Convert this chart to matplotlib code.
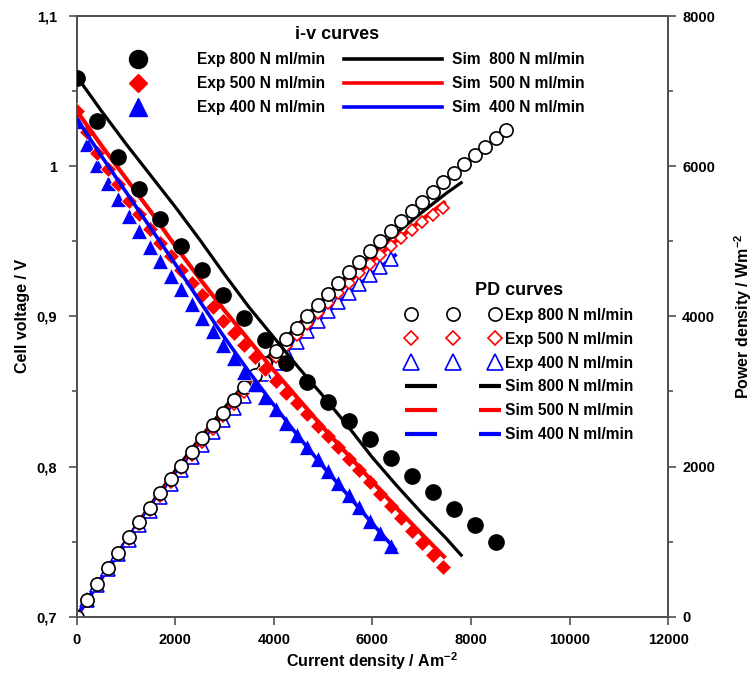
import matplotlib
matplotlib.use('Agg')
import matplotlib.pyplot as plt
from matplotlib.lines import Line2D
from matplotlib.ticker import MultipleLocator, FixedLocator
from matplotlib.legend_handler import HandlerLine2D

plt.rcParams['font.family'] = ['Liberation Sans', 'DejaVu Sans']
plt.rcParams['font.weight'] = 'bold'
plt.rcParams['mathtext.fontset'] = 'custom'
plt.rcParams['mathtext.rm'] = 'Liberation Sans:bold'
plt.rcParams['mathtext.bf'] = 'Liberation Sans:bold'
plt.rcParams['mathtext.it'] = 'Liberation Sans:bold'
plt.rcParams['lines.scale_dashes'] = False

# ---------------- data ----------------
# i-v experimental, 800 N ml/min (every 425 A/m2)
i_exp800_iv = [0, 425, 850, 1275, 1700, 2125, 2550, 2975, 3400, 3825, 4250,
               4675, 5100, 5525, 5950, 6375, 6800, 7225, 7650, 8075, 8500]
v_exp800 = [1.059, 1.030, 1.006, 0.985, 0.965, 0.947, 0.931, 0.914, 0.899, 0.884, 0.869,
            0.856, 0.843, 0.830, 0.818, 0.806, 0.794, 0.783, 0.772, 0.761, 0.750]

# experimental current densities (every 212.5 A/m2)
i_exp800_pd = [0, 212.5, 425, 637.5, 850, 1062.5, 1275, 1487.5, 1700, 1912.5, 2125,
               2337.5, 2550, 2762.5, 2975, 3187.5, 3400, 3612.5, 3825, 4037.5, 4250,
               4462.5, 4675, 4887.5, 5100, 5312.5, 5525, 5737.5, 5950, 6162.5, 6375,
               6587.5, 6800, 7012.5, 7225, 7437.5, 7650, 7862.5, 8075, 8287.5, 8500, 8712.5]
pd_exp800 = [0, 222, 438, 649, 855, 1058, 1256, 1450, 1641, 1828, 2012,
             2195, 2374, 2548, 2719, 2889, 3057, 3221, 3381, 3539, 3693,
             3849, 4002, 4152, 4299, 4444, 4586, 4728, 4867, 5004, 5138,
             5270, 5399, 5529, 5657, 5783, 5906, 6027, 6145, 6261, 6375, 6486]

i_exp500 = [0, 212.5, 425, 637.5, 850, 1062.5, 1275, 1487.5, 1700, 1912.5, 2125,
            2337.5, 2550, 2762.5, 2975, 3187.5, 3400, 3612.5, 3825, 4037.5, 4250,
            4462.5, 4675, 4887.5, 5100, 5312.5, 5525, 5737.5, 5950, 6162.5, 6375,
            6587.5, 6800, 7012.5, 7225, 7437.5]
v_exp500 = [1.037, 1.023, 1.009, 0.998, 0.988, 0.977, 0.968, 0.958, 0.949, 0.940, 0.931,
            0.922, 0.914, 0.906, 0.897, 0.889, 0.881, 0.873, 0.865, 0.857, 0.849,
            0.842, 0.835, 0.827, 0.820, 0.813, 0.805, 0.798, 0.790, 0.782, 0.774,
            0.766, 0.757, 0.749, 0.741, 0.733]
pd_exp500 = [0, 217, 429, 636, 840, 1038, 1234, 1425, 1613, 1798, 1979,
             2156, 2331, 2502, 2669, 2834, 2994, 3153, 3309, 3461, 3610,
             3757, 3902, 4043, 4182, 4317, 4449, 4576, 4699, 4818, 4934,
             5044, 5150, 5253, 5352, 5448]

i_exp400 = [0, 212.5, 425, 637.5, 850, 1062.5, 1275, 1487.5, 1700, 1912.5, 2125,
            2337.5, 2550, 2762.5, 2975, 3187.5, 3400, 3612.5, 3825, 4037.5, 4250,
            4462.5, 4675, 4887.5, 5100, 5312.5, 5525, 5737.5, 5950, 6162.5, 6375]
v_exp400 = [1.030, 1.015, 1.001, 0.989, 0.978, 0.967, 0.957, 0.946, 0.937, 0.927, 0.918,
            0.908, 0.899, 0.890, 0.881, 0.872, 0.863, 0.855, 0.846, 0.838, 0.829,
            0.821, 0.813, 0.805, 0.797, 0.789, 0.781, 0.773, 0.764, 0.756, 0.747]
pd_exp400 = [0, 216, 425, 630, 831, 1027, 1220, 1407, 1592, 1773, 1950,
             2122, 2292, 2459, 2621, 2780, 2934, 3087, 3236, 3381, 3523,
             3664, 3801, 3934, 4065, 4192, 4315, 4432, 4546, 4656, 4762]

# simulations
i_sim800 = [0, 500, 1000, 1500, 2000, 2500, 3000, 3500, 4000, 4500, 5000, 5500,
            6000, 6500, 7000, 7500, 7800]
v_sim800 = [1.060, 1.037, 1.015, 0.994, 0.973, 0.951, 0.928, 0.906, 0.886, 0.866, 0.847,
            0.827, 0.806, 0.787, 0.769, 0.752, 0.741]
pd_sim800 = [0, 519, 1015, 1491, 1946, 2378, 2784, 3171, 3544, 3897, 4235, 4549,
             4836, 5116, 5383, 5640, 5780]

i_sim500 = [0, 500, 1000, 1500, 2000, 2500, 3000, 3500, 4000, 4500, 5000, 5500,
            6000, 6500, 7000, 7450]
v_sim500 = [1.037, 1.014, 0.992, 0.970, 0.947, 0.925, 0.904, 0.884, 0.864, 0.845, 0.826,
            0.808, 0.790, 0.772, 0.755, 0.740]
pd_sim500 = [0, 507, 992, 1455, 1894, 2313, 2712, 3094, 3456, 3803, 4130, 4444,
             4740, 5018, 5285, 5513]

i_sim400 = [0, 500, 1000, 1500, 2000, 2500, 3000, 3500, 4000, 4500, 5000, 5500, 6000, 6460]
v_sim400 = [1.032, 1.007, 0.983, 0.959, 0.935, 0.910, 0.886, 0.863, 0.841, 0.820, 0.800,
            0.781, 0.762, 0.745]
pd_sim400 = [0, 504, 983, 1439, 1870, 2275, 2658, 3021, 3364, 3690, 4000, 4296, 4572, 4813]

x_ticks = [0, 2000, 4000, 6000, 8000, 10000, 12000]
x_ticklabels = ['0', '2000', '4000', '6000', '8000', '10000', '12000']
v_ticks = [0.7, 0.8, 0.9, 1.0, 1.1]
v_ticklabels = ['0,7', '0,8', '0,9', '1', '1,1']
p_ticks = [0, 2000, 4000, 6000, 8000]
p_ticklabels = ['0', '2000', '4000', '6000', '8000']

flows = ['800', '500', '400']
colors = ['black', 'red', 'blue']

# ---------------- figure ----------------
fig = plt.figure(figsize=(7.53, 6.75), dpi=100)
ax = fig.add_axes([76.5 / 753, 1 - 616.7 / 675, (668.3 - 76.5) / 753, (616.7 - 16) / 675])
ax2 = ax.twinx()
ax.set_zorder(2)
ax.patch.set_visible(False)

# PD curves (right axis)
ax2.plot(i_sim800, pd_sim800, '-', color='black', lw=2.3, zorder=2)
ax2.plot(i_sim500, pd_sim500, '-', color='red', lw=3.0, zorder=2)
ax2.plot(i_sim400, pd_sim400, '-', color='blue', lw=2.6, zorder=2)
ax2.plot(i_exp400, pd_exp400, ls='none', marker='^', ms=9.5, mfc='white', mec='blue', mew=1.2, zorder=3)
ax2.plot(i_exp500, pd_exp500, ls='none', marker='D', ms=6.5, mfc='white', mec='red', mew=1.2, zorder=4)
ax2.plot(i_exp800_pd, pd_exp800, ls='none', marker='o', ms=9.5, mfc='white', mec='black', mew=1.2, zorder=5)

# i-v curves (left axis)
ax.plot(i_exp400, v_exp400, ls='none', marker='^', ms=11, mfc='blue', mec='white', mew=0.5, zorder=2)
ax.plot(i_exp500, v_exp500, ls='none', marker='D', ms=8.5, mfc='red', mec='white', mew=0.6, zorder=3)
ax.plot(i_sim400, v_sim400, '-', color='blue', lw=2.6, zorder=4)
ax.plot(i_sim500, v_sim500, '-', color='red', lw=3.0, zorder=4)
ax.plot(i_sim800, v_sim800, '-', color='black', lw=2.3, zorder=4)
ax.plot(i_exp800_iv, v_exp800, ls='none', marker='o', ms=11, mfc='black', mec='black', zorder=5)

# axes styling
ax.set_xlim(0, 12000)
ax.set_ylim(0.7, 1.1)
ax2.set_ylim(0, 8000)
ax.xaxis.set_major_locator(FixedLocator(x_ticks))
ax.set_xticklabels(x_ticklabels)
ax.yaxis.set_major_locator(FixedLocator(v_ticks))
ax.set_yticklabels(v_ticklabels)
ax.yaxis.set_minor_locator(MultipleLocator(0.05))
ax2.yaxis.set_major_locator(FixedLocator(p_ticks))
ax2.set_yticklabels(p_ticklabels)
ax2.yaxis.set_minor_locator(MultipleLocator(1000))

spine_col = '#505050'
for a in (ax, ax2):
    for s in a.spines.values():
        s.set_color(spine_col)
        s.set_linewidth(1.3)
    a.tick_params(which='major', direction='out', length=6, width=1.2, color=spine_col,
                  labelsize=10.5)
    a.tick_params(which='minor', direction='out', length=3.5, width=1.2, color=spine_col)
ax.tick_params(axis='y', which='major', pad=8)
ax.tick_params(axis='x', which='major', pad=6)
ax2.tick_params(axis='y', which='major', pad=4)
for lab in ax.get_xticklabels() + ax.get_yticklabels() + ax2.get_yticklabels():
    lab.set_fontweight('bold')

ax.set_xlabel('Current density / Am$^{-2}$', fontsize=11.5, fontweight='bold', labelpad=2)
ax.set_ylabel('Cell voltage / V', fontsize=11.5, fontweight='bold', labelpad=5)
ax2.set_ylabel('Power density / Wm$^{-2}$', fontsize=11.5, fontweight='bold', labelpad=12)

# ---------------- legends ----------------
leg_fs = 11.2
h1 = [Line2D([], [], ls='none', marker='o', ms=13, color='black'),
      Line2D([], [], ls='none', marker='D', ms=9, color='red'),
      Line2D([], [], ls='none', marker='^', ms=13, color='blue'),
      Line2D([], [], color='black', lw=2.6),
      Line2D([], [], color='red', lw=2.6),
      Line2D([], [], color='blue', lw=2.6)]
l1 = ['Exp ' + f + ' N ml/min' for f in flows] + ['Sim  ' + f + ' N ml/min' for f in flows]
leg1 = ax2.legend(h1, l1, ncol=2, loc='upper left', bbox_to_anchor=(88.5 / 753, 1 - 26 / 675),
                  bbox_transform=fig.transFigure, frameon=False, numpoints=1,
                  fontsize=leg_fs, handlelength=6.35, handletextpad=0.62, columnspacing=1.2,
                  labelspacing=0.58, borderpad=0, borderaxespad=0,
                  title='i-v curves', title_fontproperties={'size': 13, 'weight': 'bold'},
                  prop={'size': leg_fs, 'weight': 'bold'})
ax2.add_artist(leg1)

dash = (0, (32 / 1.389, 42 / 1.389, 30 / 1.389))
h2 = [Line2D([], [], ls='none', marker='o', ms=9.5, mfc='white', mec='black', mew=1.2),
      Line2D([], [], ls='none', marker='D', ms=7.5, mfc='white', mec='red', mew=1.2),
      Line2D([], [], ls='none', marker='^', ms=12, mfc='white', mec='blue', mew=1.2),
      Line2D([], [], color='black', lw=3, ls=dash, dash_capstyle='butt'),
      Line2D([], [], color='red', lw=3, ls=dash, dash_capstyle='butt'),
      Line2D([], [], color='blue', lw=3, ls=dash, dash_capstyle='butt')]
l2 = ['Exp ' + f + ' N ml/min' for f in flows] + ['Sim ' + f + ' N ml/min' for f in flows]
hm = {h: HandlerLine2D(marker_pad=0.4, numpoints=3) for h in h2[:3]}
leg2 = ax2.legend(h2, l2, loc='upper left', bbox_to_anchor=(405 / 753, 1 - 282 / 675),
                  bbox_transform=fig.transFigure, frameon=False, handler_map=hm,
                  fontsize=leg_fs, handlelength=6.2, handletextpad=0.25,
                  labelspacing=0.57, borderpad=0, borderaxespad=0,
                  title='PD curves', title_fontproperties={'size': 13, 'weight': 'bold'},
                  prop={'size': leg_fs, 'weight': 'bold'})

fig.savefig('out.png', dpi=100)
